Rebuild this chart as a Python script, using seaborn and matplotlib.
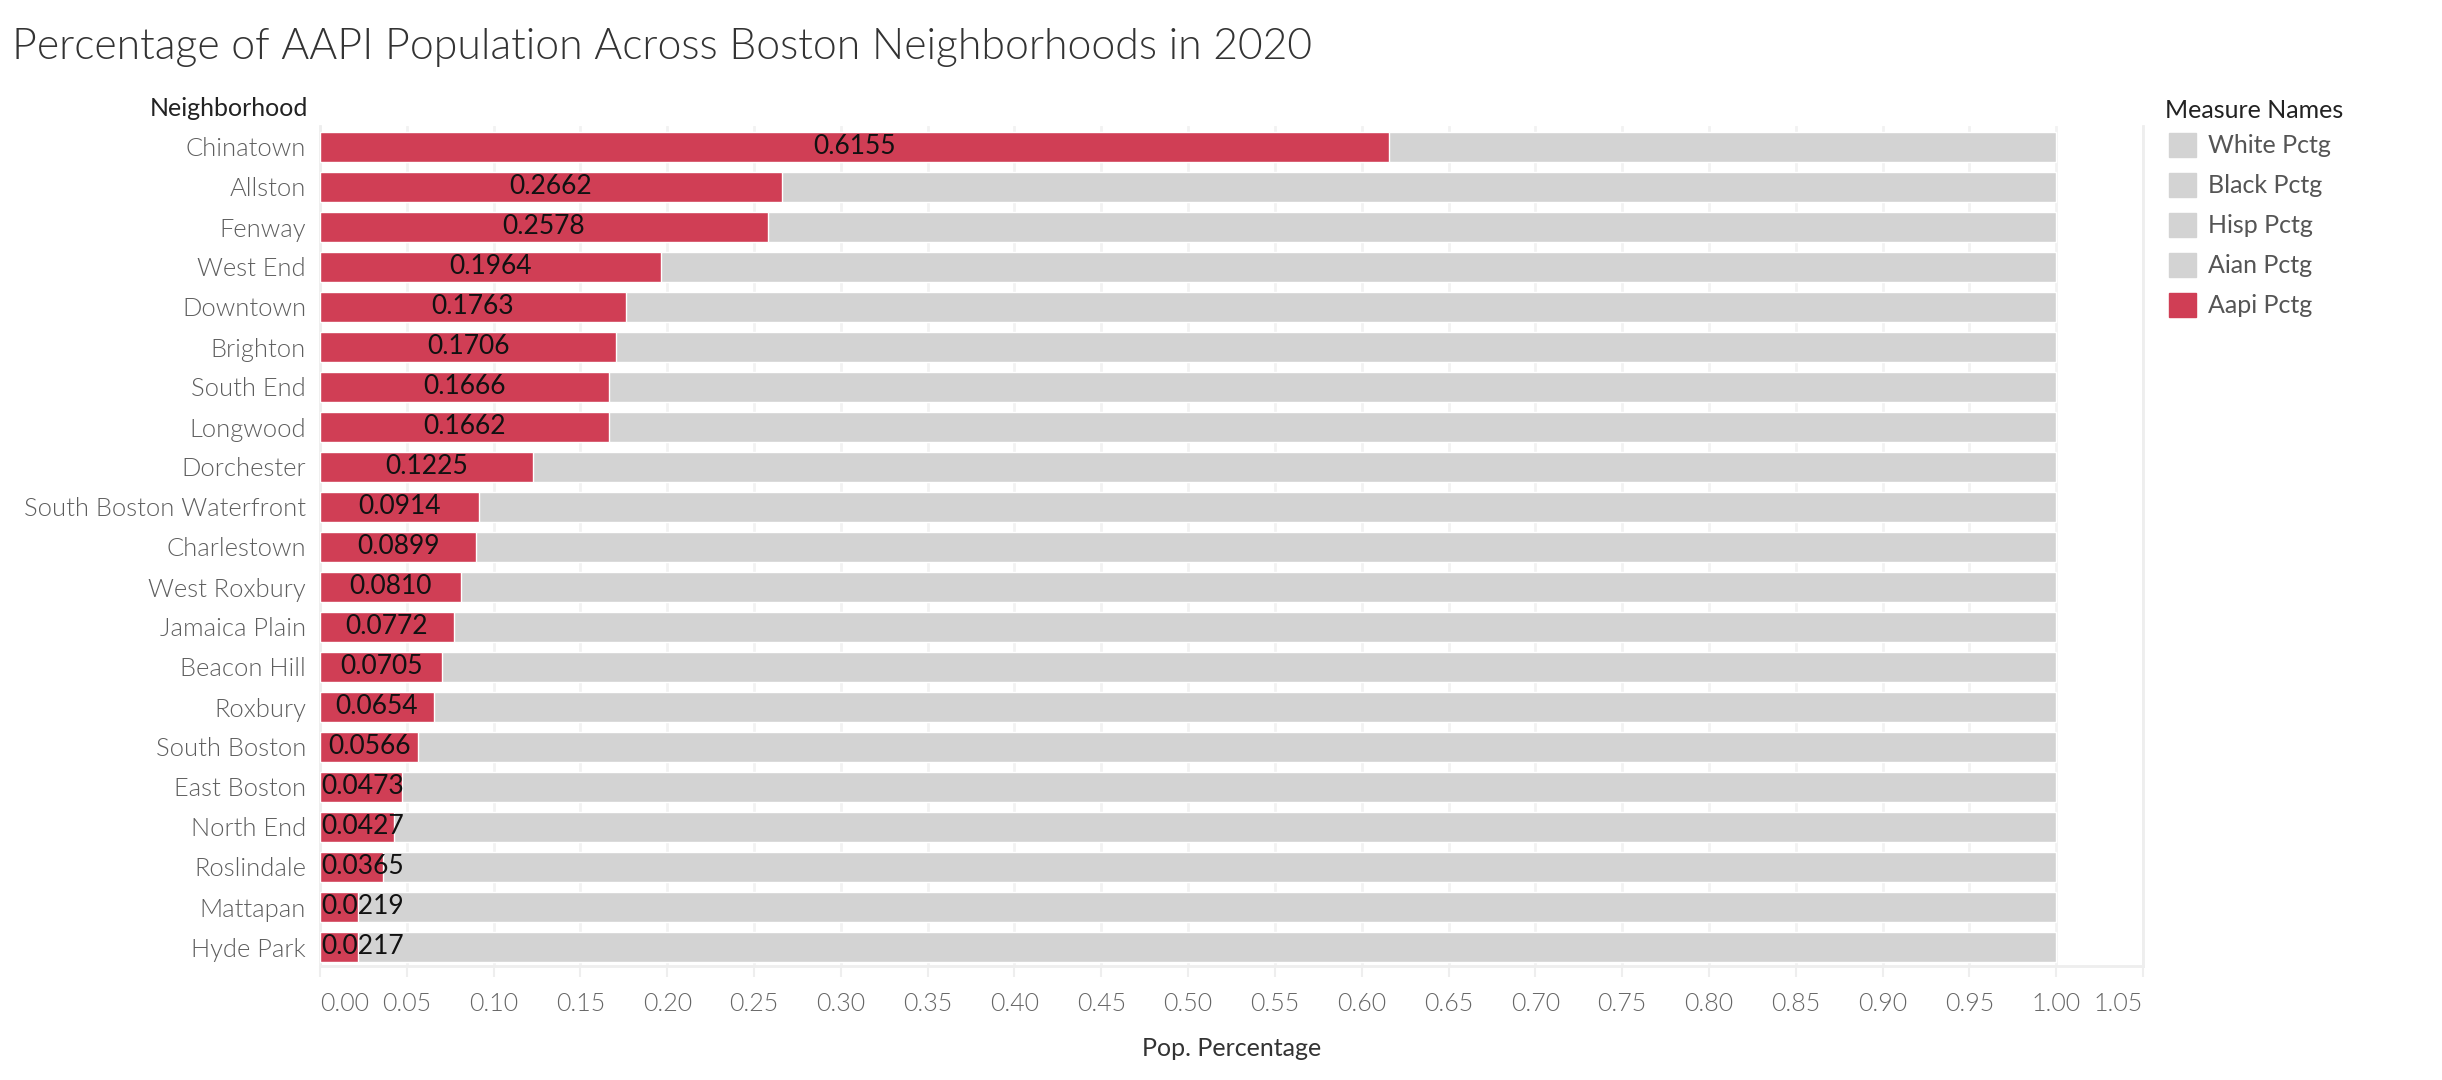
import matplotlib
matplotlib.use("Agg")
import matplotlib.pyplot as plt
from matplotlib.patches import Patch
import seaborn as sns
import pandas as pd

neighborhoods = [
    "Chinatown", "Allston", "Fenway", "West End", "Downtown", "Brighton",
    "South End", "Longwood", "Dorchester", "South Boston Waterfront",
    "Charlestown", "West Roxbury", "Jamaica Plain", "Beacon Hill", "Roxbury",
    "South Boston", "East Boston", "North End", "Roslindale", "Mattapan",
    "Hyde Park",
]
aapi_pctg = [
    0.6155, 0.2662, 0.2578, 0.1964, 0.1763, 0.1706, 0.1666, 0.1662, 0.1225,
    0.0914, 0.0899, 0.0810, 0.0772, 0.0705, 0.0654, 0.0566, 0.0473, 0.0427,
    0.0365, 0.0219, 0.0217,
]
# all measures stacked together reach the full population share
total_pctg = [1.0, 1.0, 1.0, 1.0, 1.0, 1.0, 1.0, 1.0, 1.0, 1.0, 1.0,
              1.0, 1.0, 1.0, 1.0, 1.0, 1.0, 1.0, 1.0, 1.0, 1.0]
measure_names = ["White Pctg", "Black Pctg", "Hisp Pctg", "Aian Pctg", "Aapi Pctg"]
x_ticks = [0.00, 0.05, 0.10, 0.15, 0.20, 0.25, 0.30, 0.35, 0.40, 0.45, 0.50,
           0.55, 0.60, 0.65, 0.70, 0.75, 0.80, 0.85, 0.90, 0.95, 1.00, 1.05]

df = pd.DataFrame({"Neighborhood": neighborhoods, "Aapi": aapi_pctg, "Total": total_pctg})

RED = "#D03E55"
GREY = "#D3D3D3"
FONT = ["Lato", "DejaVu Sans"]

sns.set_theme(style="white")
plt.rcParams["font.family"] = FONT

W, H = 2442, 1080
fig = plt.figure(figsize=(W / 100, H / 100), dpi=100)
ax = fig.add_axes([320 / W, (H - 966) / H, (2143 - 320) / W, (966 - 126) / H])

sns.barplot(data=df, y="Neighborhood", x="Total", color=GREY, width=0.75,
            saturation=1, ax=ax, orient="h", zorder=2)
sns.barplot(data=df, y="Neighborhood", x="Aapi", color=RED, width=0.75,
            saturation=1, ax=ax, orient="h", zorder=3)

ax.set_xlim(0, 1.05)
ax.set_ylim(20.475, -0.525)

value_texts = []
for i, v in enumerate(aapi_pctg):
    t = ax.text(v / 2, i, f"{v:.4f}", ha="center", va="center", fontsize=19,
                color="#111111", zorder=4)
    value_texts.append((t, v))

ax.set_xticks(x_ticks)
labels = ax.set_xticklabels([f"{t:.2f}" for t in x_ticks], fontsize=18,
                            color="#666666", fontweight=300)
labels[0].set_ha("left")
labels[-1].set_ha("right")
ax.tick_params(axis="x", length=8, width=1.5, color="#EEEEEE", pad=11, bottom=True)
ax.tick_params(axis="y", length=0, pad=10)
for lab in ax.get_yticklabels():
    lab.set_fontsize(18.4)
    lab.set_color("#5E5E5E")
    lab.set_fontweight(300)

ax.grid(axis="x", color="#F2F2F2", linewidth=2, zorder=0)
ax.set_axisbelow(True)
for side in ["left", "right", "bottom"]:
    ax.spines[side].set_color("#EEEEEE")
    ax.spines[side].set_linewidth(2)
ax.spines["top"].set_visible(False)

ax.set_ylabel("")
ax.set_xlabel("Pop. Percentage", fontsize=18, color="#333333", labelpad=15)

fig.text(12 / W, 1 - 59 / H, "Percentage of AAPI Population Across Boston Neighborhoods in 2020",
         fontsize=30.8, color="#333333", fontweight=300, ha="left", va="baseline")
fig.text(308 / W, 1 - 109 / H, "Neighborhood", fontsize=18, color="#222222",
         ha="right", va="center")
fig.text(2165 / W, 1 - 110 / H, "Measure Names", fontsize=18, color="#222222",
         ha="left", va="center")

handles = [Patch(color=GREY), Patch(color=GREY), Patch(color=GREY),
           Patch(color=GREY), Patch(color=RED)]
leg = fig.legend(handles, measure_names, loc="upper left",
                 bbox_to_anchor=(2146 / W, 1 - 110 / H), frameon=False,
                 fontsize=18, handlelength=1.1, handleheight=1.1,
                 labelspacing=0.62, handletextpad=0.5)
for t in leg.get_texts():
    t.set_color("#555555")

# keep value labels inside the plotting pane (clamped to its left edge)
fig.canvas.draw()
renderer = fig.canvas.get_renderer()
inv = ax.transData.inverted()
x0_disp = ax.transData.transform((0, 0))[0]
for t, v in value_texts:
    bb = t.get_window_extent(renderer)
    if bb.x0 < x0_disp + 2:
        t.set_ha("left")
        t.set_x(inv.transform((x0_disp + 1, 0))[0])

fig.savefig("out.png", dpi=100)
